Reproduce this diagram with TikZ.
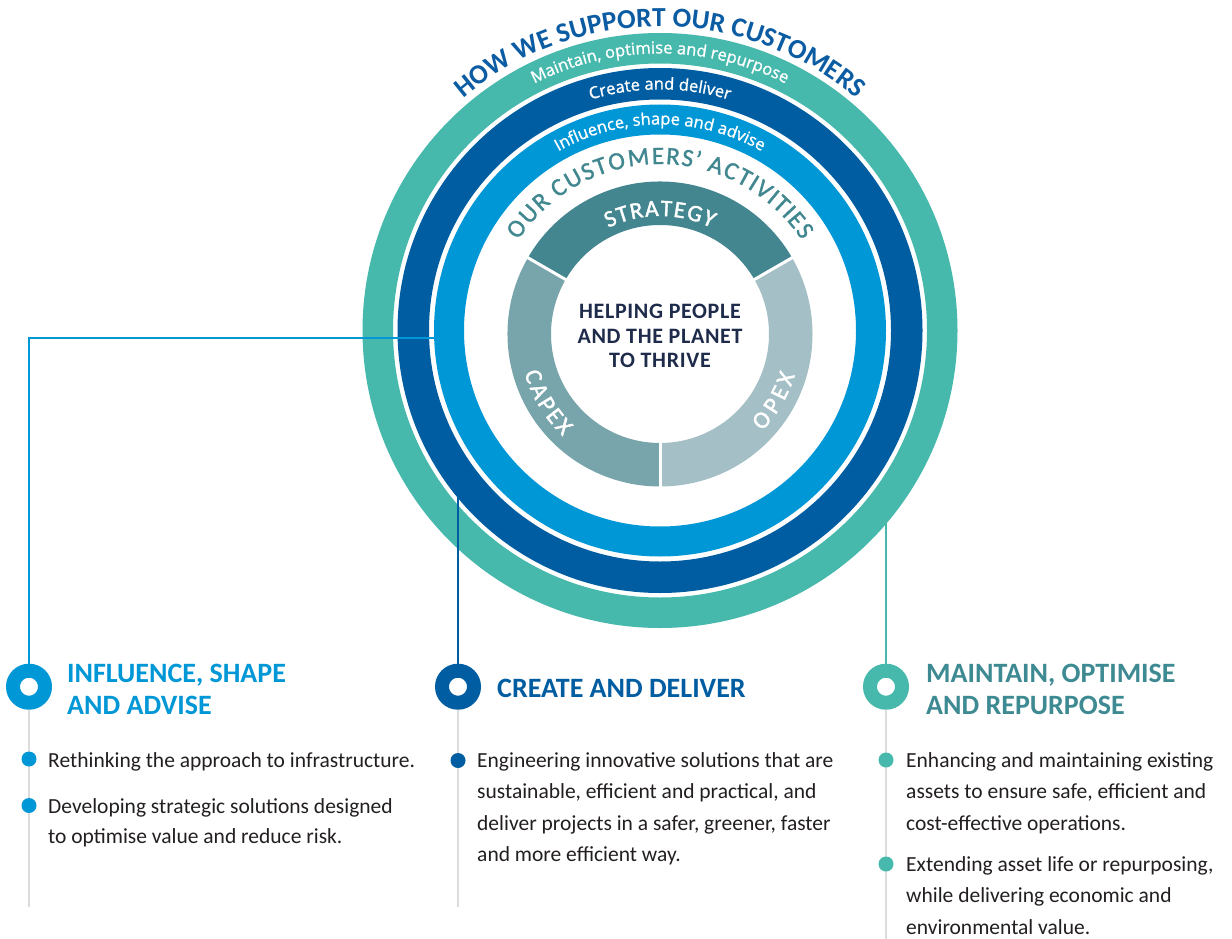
\documentclass[tikz,border=0pt]{standalone}
\usepackage{fontspec}
\setmainfont{Carlito}
\newfontfamily\calf{Carlito}
\newfontfamily\calsp[LetterSpace=3]{Carlito}
\newfontfamily\calsemi[FakeBold=1.6]{Carlito}
\newfontfamily\calact[FakeBold=1.3]{Carlito}
\newfontfamily\osans[FakeBold=1.2]{Open Sans}
\usetikzlibrary{decorations.text,calc}
\definecolor{tealring}{HTML}{46B8AC}
\definecolor{darkblue}{HTML}{005DA1}
\definecolor{lightblue}{HTML}{0097D7}
\definecolor{strategyc}{HTML}{43868F}
\definecolor{capexc}{HTML}{78A4AC}
\definecolor{opexc}{HTML}{A4C0C6}
\definecolor{actc}{HTML}{41878F}
\definecolor{navy}{HTML}{1E2B4A}
\definecolor{titleblue}{HTML}{0B5CA2}
\definecolor{tealhead}{HTML}{3E8A93}
\definecolor{bodytext}{HTML}{231F20}
\definecolor{greyline}{HTML}{DCDCDC}
\newcommand\donutseg[3]{\fill[#3] ($(D)+(#1:152.5)$) arc[start angle=#1,end angle=#2,radius=152.5] -- ($(D)+(#2:109)$) arc[start angle=#2,end angle=#1,radius=109] -- cycle;}
\begin{document}
\begin{tikzpicture}[x=1pt,y=1pt,
  marker/.style={circle,draw=#1,line width=14pt,fill=white,minimum size=32pt,inner sep=0pt,outer sep=7pt},
  dot/.style={circle,fill=#1,minimum size=15pt,inner sep=0pt},
  conn/.style={line width=1.4pt},
  gline/.style={greyline,line width=2pt},
  body/.style={font=\calf\fontsize{21.5}{30}\selectfont,text=bodytext,inner sep=0pt,anchor=base west},
  head/.style={font=\calf\bfseries\fontsize{28}{33}\selectfont,inner sep=0pt,anchor=base west},
  ctext/.style={font=\calsp\bfseries\fontsize{22}{24}\selectfont,text=navy,inner sep=0pt,anchor=base}]
\useasboundingbox (0,0) rectangle (1232,-939);
\fill[white] (0,0) rectangle (1232,-939);
\coordinate (C) at (660,-330.5);
\coordinate (D) at (660,-334);
% rings
\draw[tealring,line width=30.5pt] (C) circle[radius=282.25];
\draw[darkblue,line width=31.5pt] (C) circle[radius=246.75];
\draw[lightblue,line width=30pt] (C) circle[radius=211];
% donut
\donutseg{30}{150}{strategyc}
\donutseg{150}{270}{capexc}
\donutseg{270}{390}{opexc}
\foreach \a in {30,150,270} \draw[white,line width=3pt] ($(D)+(\a:105)$) -- ($(D)+(\a:156)$);
% arc texts
\path[decorate,decoration={text along path,text align=center,text color=titleblue,
  text={|\calf\bfseries\fontsize{27.5}{28}\selectfont|HOW WE SUPPORT OUR CUSTOMERS}}]
  ($(C)+(170:304)$) arc[start angle=170,end angle=10,radius=304];
\path[decorate,decoration={text along path,text align=center,text color=white,
  text={|\osans\fontsize{16.5}{17}\selectfont|Maintain, optimise and repurpose}}]
  ($(C)+(170:277)$) arc[start angle=170,end angle=10,radius=277];
\path[decorate,decoration={text along path,text align=center,text color=white,
  text={|\osans\fontsize{16.5}{16.5}\selectfont|Create and deliver}}]
  ($(C)+(170:241)$) arc[start angle=170,end angle=10,radius=241];
\path[decorate,decoration={text along path,text align=center,text color=white,
  text={|\osans\fontsize{16.5}{17}\selectfont|Influence, shape and advise}}]
  ($(C)+(170:206)$) arc[start angle=170,end angle=10,radius=206];
\path[decorate,decoration={text effects along path,text={OUR CUSTOMERS’ ACTIVITIES},
  text effects/.cd,text along path,fit text to path,
  characters={text=actc,font=\calact\fontsize{25}{26}\selectfont}}]
  ($(D)+(146.5:170)$) arc[start angle=146.5,end angle=33.5,radius=170];
\path[decorate,decoration={text effects along path,text={STRATEGY},
  text effects/.cd,text along path,fit text to path,
  characters={text=white,font=\calsemi\fontsize{23.5}{24}\selectfont}}]
  ($(D)+(116:118)$) arc[start angle=116,end angle=64,radius=118];
\path[decorate,decoration={text effects along path,text={CAPEX},
  text effects/.cd,text along path,fit text to path,
  characters={text=white,font=\calsemi\fontsize{24}{24}\selectfont}}]
  ($(D)+(196:141)$) arc[start angle=196,end angle=226.5,radius=141];
\path[decorate,decoration={text effects along path,text={OPEX},
  text effects/.cd,text along path,fit text to path,
  characters={text=white,font=\calsemi\fontsize{24}{24}\selectfont}}]
  ($(D)+(316.5:141)$) arc[start angle=316.5,end angle=343,radius=141];
% centre text
\node[ctext] (c1) at (660,-318.3) {HELPING PEOPLE};
\node[ctext] (c2) at (660,-343.3) {AND THE PLANET};
\node[ctext] (c3) at (660,-367.3) {TO THRIVE};
% connector anchor points
\coordinate (lb) at (434,-338);
\coordinate (db) at (458,-497);
\coordinate (tb) at (886,-523);
\coordinate (g1) at (29,-907);
\coordinate (g2) at (458,-907);
\coordinate (g3) at (886,-939);
% markers
\node[marker=lightblue] (m1) at (29,-686.7) {};
\node[marker=darkblue] (m2) at (458,-686.7) {};
\node[marker=tealring] (m3) at (886,-686.7) {};
\draw[conn,lightblue] (lb) -| (m1);
\draw[conn,darkblue] (db) -- (m2);
\draw[conn,tealring] (tb) -- (m3);
\draw[gline] (m1.south) -- (g1);
\draw[gline] (m2.south) -- (g2);
\draw[gline] (m3.south) -- (g3);
% bullets
\node[dot=lightblue] (d1a) at (29,-759) {};
\node[dot=lightblue] (d1b) at (29,-805.5) {};
\node[dot=darkblue] (d2a) at (458,-760.5) {};
\node[dot=tealring] (d3a) at (886,-760) {};
\node[dot=tealring] (d3b) at (886,-864) {};
% headings
\node[head,text=lightblue] (h1a) at (67,-682) {INFLUENCE, SHAPE};
\node[head,text=lightblue] (h1b) at (67,-714) {AND ADVISE};
\node[head,text=darkblue] (h2a) at (497,-697.5) {CREATE AND DELIVER};
\node[head,text=tealhead] (h3a) at (926,-682) {MAINTAIN, OPTIMISE};
\node[head,text=tealhead] (h3b) at (926,-714) {AND REPURPOSE};
% body text
\node[body] (t1a) at (48,-767) {Rethinking the approach to infrastructure.};
\node[body] (t1b) at (48,-813) {Developing strategic solutions designed};
\node[body] (t1c) at (48,-843.5) {to optimise value and reduce risk.};
\node[body] (t2a) at (477,-767.5) {Engineering innovative solutions that are};
\node[body] (t2b) at (477,-798.5) {sustainable, efficient and practical, and};
\node[body] (t2c) at (477,-830) {deliver projects in a safer, greener, faster};
\node[body] (t2d) at (477,-861) {and more efficient way.};
\node[body] (t3a) at (906,-767) {Enhancing and maintaining existing};
\node[body] (t3b) at (906,-798.5) {assets to ensure safe, efficient and};
\node[body] (t3c) at (906,-830) {cost-effective operations.};
\node[body] (t3d) at (906,-871) {Extending asset life or repurposing,};
\node[body] (t3e) at (906,-902.5) {while delivering economic and};
\node[body] (t3f) at (906,-934) {environmental value.};
\end{tikzpicture}
\end{document}
